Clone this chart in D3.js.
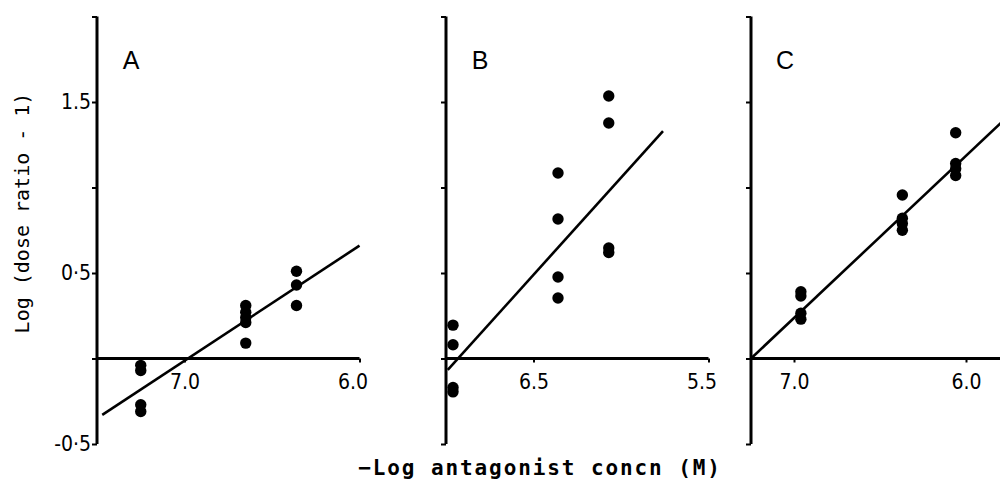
<!DOCTYPE html>
<html>
<head>
<meta charset="utf-8">
<script src="https://cdn.jsdelivr.net/npm/d3@7"></script>
<style>
  html, body { margin: 0; padding: 0; background: #fff; }
  svg { display: block; }
</style>
</head>
<body>
<svg id="chart" width="1000" height="480"></svg>
<script>
// ---------- data ----------
const panelNames = ["A", "B", "C"];
const xDomains = [[7.5, 6.0], [7.0, 5.5], [7.25, 5.75]];
const xTickValues = [[7.0, 6.0], [6.5, 5.5], [7.0, 6.0]];
const xTickLabels = [["7.0", "6.0"], ["6.5", "5.5"], ["7.0", "6.0"]];
const yTickValues = [-0.5, 0, 0.5, 1.0, 1.5, 2.0];
const yTickLabels = ["-0·5", "", "0·5", "", "1.5", ""];

// points: [ -log conc, log(DR-1) ]
const pointsA = [
  [7.25, -0.04], [7.25, -0.07], [7.25, -0.27], [7.25, -0.31],
  [6.65, 0.31], [6.65, 0.27], [6.65, 0.24], [6.65, 0.21], [6.65, 0.09],
  [6.36, 0.51], [6.36, 0.43], [6.36, 0.31]
];
const pointsB = [
  [6.96, 0.195], [6.96, 0.08], [6.96, -0.17], [6.96, -0.195],
  [6.36, 1.085], [6.36, 0.816], [6.36, 0.477], [6.36, 0.354],
  [6.07, 1.535], [6.07, 1.377], [6.07, 0.646], [6.07, 0.62]
];
const pointsC = [
  [6.96, 0.39], [6.96, 0.365], [6.96, 0.265], [6.96, 0.23],
  [6.37, 0.956], [6.37, 0.82], [6.37, 0.79], [6.37, 0.75],
  [6.06, 1.32], [6.06, 1.14], [6.06, 1.11], [6.06, 1.07]
];
const lineA = [[7.47, -0.33], [6.0, 0.66]];
const lineB = [[6.99, -0.067], [5.76, 1.33]];
const lineC = [[7.25, 0.0], [5.70, 1.47]];

const panelPoints = [pointsA, pointsB, pointsC];
const panelLines = [lineA, lineB, lineC];

const yLabel = "Log (dose ratio - 1)";
const xLabel = "\u2212Log antagonist concn (M)";

// ---------- layout ----------
const svg = d3.select("#chart");
const xRanges = [[97, 359.5], [446, 708.5], [751, 1009]];
const y = d3.scaleLinear().domain([-0.5, 2.0]).range([444, 16.5]);

const tickFont = "'DejaVu Sans Condensed', 'DejaVu Sans', sans-serif";

svg.append("defs").append("clipPath").attr("id", "clip")
  .append("rect").attr("x", 0).attr("y", 0).attr("width", 1000).attr("height", 480);

panelNames.forEach((name, i) => {
  const x = d3.scaleLinear().domain(xDomains[i]).range(xRanges[i]);
  const g = svg.append("g").attr("clip-path", "url(#clip)");

  // y axis
  const yAxis = d3.axisLeft(y)
    .tickValues(yTickValues)
    .tickSize(5)
    .tickFormat((d, k) => i === 0 ? yTickLabels[k] : "");
  const ya = g.append("g")
    .attr("transform", `translate(${xRanges[i][0]},0)`)
    .call(yAxis);
  ya.select(".domain").attr("stroke", "#000").attr("stroke-width", 3)
    .attr("d", `M0,${y(-0.5)}V${y(2.0)}`);
  ya.selectAll(".tick line").attr("stroke", "#000").attr("stroke-width", 2);
  ya.selectAll(".tick text")
    .attr("font-family", tickFont)
    .attr("font-stretch", "condensed")
    .attr("font-size", 21)
    .attr("fill", "#000")
    .attr("x", -6);

  // x axis at y = 0
  const xAxis = d3.axisBottom(x)
    .tickValues(xTickValues[i])
    .tickSize(4)
    .tickFormat((d, k) => xTickLabels[i][k]);
  const xa = g.append("g")
    .attr("transform", `translate(0,${y(0)})`)
    .call(xAxis);
  xa.select(".domain").attr("stroke", "#000").attr("stroke-width", 3)
    .attr("d", `M${xRanges[i][0]},0H${xRanges[i][1]}`);
  xa.selectAll(".tick line").attr("stroke", "#000").attr("stroke-width", 2);
  xa.selectAll(".tick text")
    .attr("font-family", tickFont)
    .attr("font-stretch", "condensed")
    .attr("font-size", 21)
    .attr("fill", "#000")
    .attr("y", 16)
    .attr("dx", (d, k) => k === 1 && i < 2 ? -7 : 0);

  // regression line
  g.append("line")
    .attr("x1", x(panelLines[i][0][0])).attr("y1", y(panelLines[i][0][1]))
    .attr("x2", x(panelLines[i][1][0])).attr("y2", y(panelLines[i][1][1]))
    .attr("stroke", "#000").attr("stroke-width", 2.6);

  // points
  g.selectAll("circle.pt").data(panelPoints[i]).enter()
    .append("circle").attr("class", "pt")
    .attr("cx", d => x(d[0])).attr("cy", d => y(d[1]))
    .attr("r", 5.7).attr("fill", "#000");

  // panel letter
  g.append("text")
    .attr("x", xRanges[i][0] + 34).attr("y", 69)
    .attr("text-anchor", "middle")
    .attr("font-family", "'Liberation Sans', Arial, sans-serif")
    .attr("font-size", 25)
    .attr("fill", "#000")
    .text(name);
});

// axis titles
svg.append("text")
  .attr("transform", "translate(29,213) rotate(-90)")
  .attr("text-anchor", "middle")
  .attr("font-family", "'DejaVu Sans Mono', monospace")
  .attr("font-size", 20)
  .attr("fill", "#000")
  .text(yLabel);

svg.append("text")
  .attr("x", 540).attr("y", 475)
  .attr("text-anchor", "middle")
  .attr("font-family", "'DejaVu Sans Mono', monospace")
  .attr("font-weight", "bold")
  .attr("font-size", 21)
  .attr("letter-spacing", 1.9)
  .attr("fill", "#000")
  .text(xLabel);
</script>
</body>
</html>
